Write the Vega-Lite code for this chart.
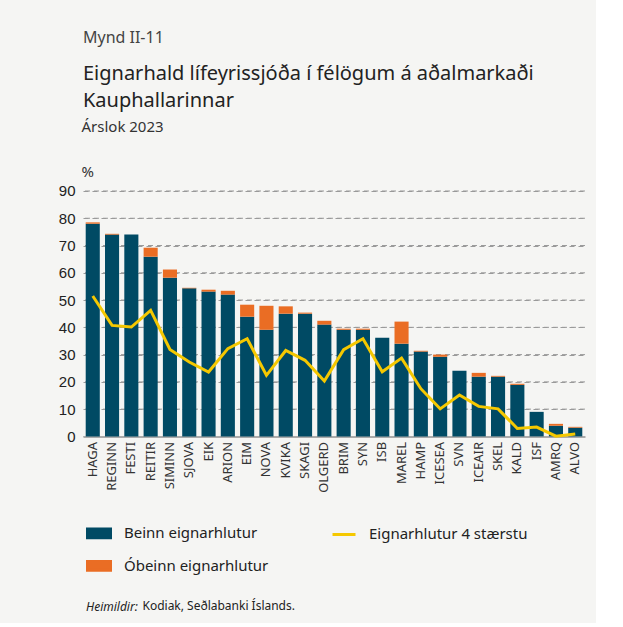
{
  "$schema": "https://vega.github.io/schema/vega-lite/v6.json",
  "background": "#f5f5f3",
  "padding": {"left": 58, "top": 30, "right": 10, "bottom": 10},
  "width": 502,
  "height": 245.4,
  "title": {
    "text": "Mynd II-11",
    "subtitle": ["Eignarhald lífeyrissjóða í félögum á aðalmarkaði", "Kauphallarinnar"],
    "anchor": "start",
    "frame": "group",
    "font": "Noto Sans",
    "fontSize": 16,
    "fontWeight": "normal",
    "color": "#444444",
    "subtitleFont": "Noto Sans",
    "subtitleFontSize": 20,
    "subtitleColor": "#222222",
    "subtitleLineHeight": 27,
    "subtitlePadding": 18,
    "offset": 9
  },
  "config": {
    "view": {"stroke": null},
    "font": "Noto Sans",
    "axisY": {
      "values": [0, 10, 20, 30, 40, 50, 60, 70, 80, 90],
      "grid": true,
      "gridColor": "#9a9a9a",
      "gridDash": [5, 4],
      "gridWidth": 1,
      "domain": false,
      "ticks": false,
      "labelFont": "Liberation Sans",
      "labelFontSize": 15,
      "labelColor": "#222222",
      "labelPadding": 8,
      "titleAngle": 0,
      "titleAlign": "left",
      "titleBaseline": "alphabetic",
      "titleLineHeight": 44.7,
      "titleX": -2,
      "titleY": -59,
      "titleFont": "Noto Sans",
      "titleFontSize": 15,
      "titleFontWeight": "normal",
      "titleColor": "#333333"
    }
  },
  "data": {
    "values": [
      {"felag": "HAGA", "beinn": 78.0, "heild": 78.5, "staerstu": 51.5},
      {"felag": "REGINN", "beinn": 74.0, "heild": 74.3, "staerstu": 40.7},
      {"felag": "FESTI", "beinn": 74.0, "heild": 74.0, "staerstu": 40.1},
      {"felag": "REITIR", "beinn": 65.9, "heild": 69.2, "staerstu": 46.2},
      {"felag": "SIMINN", "beinn": 58.2, "heild": 61.2, "staerstu": 31.9},
      {"felag": "SJOVA", "beinn": 54.3, "heild": 54.5, "staerstu": 27.3},
      {"felag": "EIK", "beinn": 53.1, "heild": 53.8, "staerstu": 23.6},
      {"felag": "ARION", "beinn": 52.0, "heild": 53.4, "staerstu": 32.2},
      {"felag": "EIM", "beinn": 43.9, "heild": 48.3, "staerstu": 35.8},
      {"felag": "NOVA", "beinn": 39.1, "heild": 47.9, "staerstu": 22.4},
      {"felag": "KVIKA", "beinn": 45.0, "heild": 47.7, "staerstu": 31.5},
      {"felag": "SKAGI", "beinn": 45.0, "heild": 45.4, "staerstu": 27.9},
      {"felag": "OLGERD", "beinn": 41.0, "heild": 42.4, "staerstu": 20.3},
      {"felag": "BRIM", "beinn": 39.1, "heild": 39.5, "staerstu": 31.8},
      {"felag": "SYN", "beinn": 39.1, "heild": 39.5, "staerstu": 35.8},
      {"felag": "ISB", "beinn": 36.2, "heild": 36.2, "staerstu": 23.7},
      {"felag": "MAREL", "beinn": 34.0, "heild": 42.1, "staerstu": 28.7},
      {"felag": "HAMP", "beinn": 31.1, "heild": 31.4, "staerstu": 17.5},
      {"felag": "ICESEA", "beinn": 29.2, "heild": 30.0, "staerstu": 10.1},
      {"felag": "SVN", "beinn": 24.1, "heild": 24.1, "staerstu": 15.2},
      {"felag": "ICEAIR", "beinn": 21.9, "heild": 23.3, "staerstu": 11.0},
      {"felag": "SKEL", "beinn": 21.9, "heild": 22.2, "staerstu": 10.1},
      {"felag": "KALD", "beinn": 18.9, "heild": 19.3, "staerstu": 2.9},
      {"felag": "ISF", "beinn": 9.0, "heild": 9.0, "staerstu": 3.4},
      {"felag": "AMRQ", "beinn": 3.9, "heild": 4.6, "staerstu": 0.1},
      {"felag": "ALVO", "beinn": 3.2, "heild": 3.5, "staerstu": 0.9}
    ]
  },
  "layer": [
    {
      "data": {
        "values": [
          {"linagildi": 10}, {"linagildi": 20}, {"linagildi": 30},
          {"linagildi": 40}, {"linagildi": 50}, {"linagildi": 60},
          {"linagildi": 70}, {"linagildi": 80}, {"linagildi": 90}
        ]
      },
      "mark": {"type": "rule", "color": "#9a9a9a", "strokeDash": [5, 4], "strokeWidth": 1},
      "encoding": {
        "y": {
          "field": "linagildi",
          "type": "quantitative",
          "scale": {"domain": [0, 90], "nice": false},
          "axis": {"title": ["Árslok 2023", "%"]}
        }
      }
    },
    {
      "encoding": {
        "x": {
          "field": "felag",
          "type": "nominal",
          "sort": null,
          "scale": {"paddingInner": 0.27, "paddingOuter": 0.14},
          "axis": {
            "labelAngle": -90,
            "labelFont": "Noto Sans",
            "labelFontSize": 13,
            "labelColor": "#333333",
            "labelPadding": 5,
            "ticks": false,
            "grid": false,
            "domainColor": "#aaaaaa",
            "domainWidth": 2,
            "title": "Kodiak, Seðlabanki Íslands.",
            "titleFont": "Noto Sans",
            "titleFontSize": 12,
            "titleFontWeight": "normal",
            "titleColor": "#222222",
            "titleAnchor": "start",
            "titleAlign": "left",
            "titleBaseline": "alphabetic",
            "titleX": 59,
            "titleY": 173
          }
        }
      },
      "layer": [
        {
          "mark": {"type": "bar"},
          "encoding": {
            "y": {
              "field": "beinn",
              "type": "quantitative",
              "axis": {"title": ["Árslok 2023", "%"]}
            },
            "color": {
              "datum": "Beinn eignarhlutur",
              "scale": {
                "domain": ["Beinn eignarhlutur", "Eignarhlutur 4 stærstu", "Óbeinn eignarhlutur"],
                "range": ["#004a64", "#f5c800", "#ea6d24"]
              },
              "legend": {
                "orient": "none",
                "legendX": 3,
                "legendY": 329,
                "columns": 2,
                "direction": "horizontal",
                "columnPadding": 57,
                "rowPadding": 9,
                "padding": 0,
                "symbolSize": 529,
                "labelFont": "Noto Sans",
                "labelFontSize": 15,
                "labelColor": "#222222",
                "labelOffset": 12,
                "title": "Heimildir:",
                "titleOrient": "bottom",
                "titleAnchor": "start",
                "titleFont": "Noto Sans",
                "titleFontSize": 12,
                "titleFontStyle": "italic",
                "titleFontWeight": "normal",
                "titleColor": "#222222",
                "titlePadding": 26,
                "encode": {
                  "symbols": {
                    "update": {
                      "shape": {"signal": "datum.value === 'Eignarhlutur 4 stærstu' ? 'M-1,0H1' : 'M-1,-0.38H1V0.38H-1Z'"},
                      "fill": {"signal": "datum.value === 'Eignarhlutur 4 stærstu' ? 'transparent' : scale('color', datum.value)"},
                      "stroke": {"signal": "datum.value === 'Eignarhlutur 4 stærstu' ? scale('color', datum.value) : 'transparent'"},
                      "strokeWidth": {"value": 3},
                      "opacity": {"value": 1}
                    }
                  }
                }
              }
            }
          }
        },
        {
          "mark": {"type": "bar"},
          "encoding": {
            "y": {"field": "beinn", "type": "quantitative", "axis": {"title": ["Árslok 2023", "%"]}},
            "y2": {"field": "heild"},
            "color": {"datum": "Óbeinn eignarhlutur"}
          }
        },
        {
          "mark": {"type": "line", "strokeWidth": 3, "color": "#f5c800"},
          "encoding": {
            "y": {"field": "staerstu", "type": "quantitative", "axis": {"title": ["Árslok 2023", "%"]}},
            "color": {"datum": "Eignarhlutur 4 stærstu"}
          }
        }
      ]
    }
  ]
}
